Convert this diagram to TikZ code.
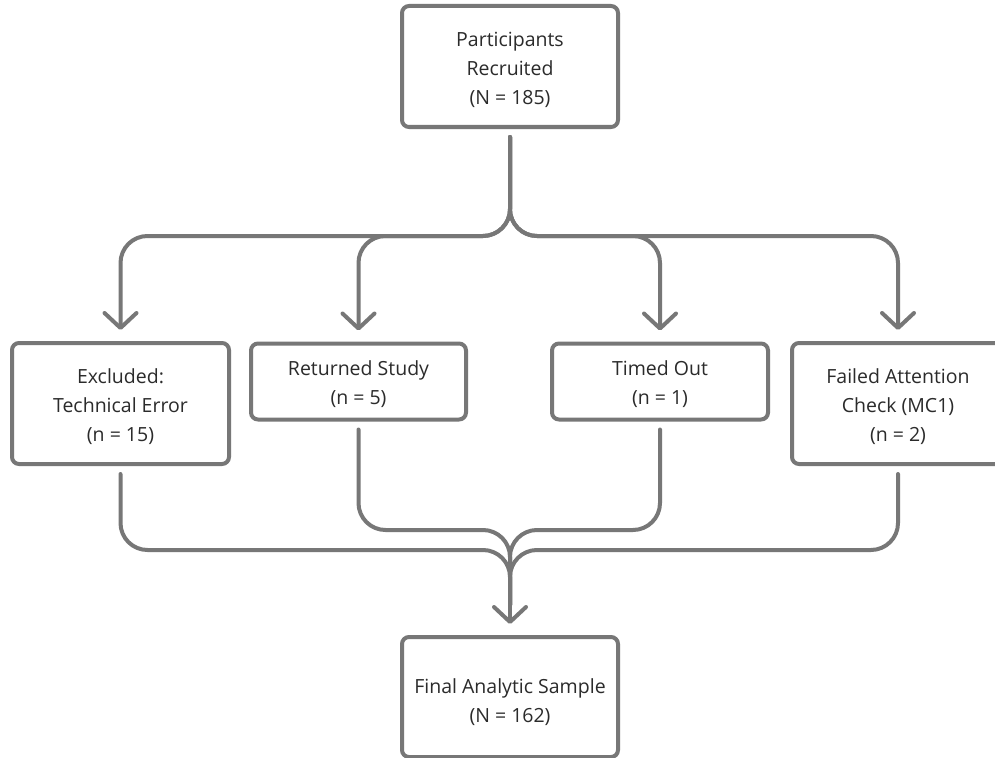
\documentclass[tikz,border=0pt]{standalone}
\usepackage{fontspec}
\setmainfont{Open Sans}
\usetikzlibrary{arrows.meta,calc}
\definecolor{linegray}{HTML}{777777}
\definecolor{textgray}{HTML}{2B2B2B}
\newcommand\boxtext[2][3pt]{\raisebox{-#1}[\height][\depth]{\begin{tabular}{@{}c@{}}#2\end{tabular}}}
\tikzset{
  box/.style={draw=linegray, line width=4pt, rounded corners=7pt, fill=white,
    text=textgray, font=\fontsize{19.5}{29}\selectfont, inner sep=0pt},
  conn/.style={draw=linegray, line width=4pt, rounded corners=27pt, line cap=round},
  arr/.style={-{Straight Barb[length=15pt,width=32pt,line cap=round,line join=round]}}
}
\begin{document}
\begin{tikzpicture}[x=1pt,y=-1pt]
\useasboundingbox (0,0) rectangle (995,757);
\clip (0,0) rectangle (995,757);
\fill[white] (0,0) rectangle (995,757);
\node[box, minimum width=216pt, minimum height=121pt] (top) at (510,66.5) {\boxtext{Participants\\Recruited\\(N = 185)}};
\node[box, minimum width=217pt, minimum height=121pt] (b1) at (120.5,403.5) {\boxtext{Excluded:\\Technical Error\\(n = 15)}};
\node[box, minimum width=215pt, minimum height=76pt] (b2) at (358.5,381.5) {\boxtext{Returned Study\\(n = 5)}};
\node[box, minimum width=216pt, minimum height=76pt] (b3) at (660,381.5) {\boxtext{Timed Out\\(n = 1)}};
\node[box, minimum width=212pt, minimum height=121pt] (b4) at (898,403.5) {\boxtext{Failed Attention\\Check (MC1)\\(n = 2)}};
\node[box, minimum width=216pt, minimum height=120pt] (bot) at (510,697) {\boxtext[5pt]{Final Analytic Sample\\(N = 162)}};
\coordinate (sy) at (0,236);
\coordinate (my1) at (0,550);
\coordinate (my2) at (0,530);
% split
\foreach \b in {b1,b2,b3,b4}{
  \draw[conn,arr] ($(top.south)+(0,8)$) -- (top.south |- sy) -- (\b.north |- sy) -- ($(\b.north)+(0,-11)$);
}
% merge
\draw[conn] ($(b1.south)+(0,8)$) -- (b1.south |- my1) -- (bot.north |- my1) -- ($(bot.north)+(0,-30)$);
\draw[conn] ($(b4.south)+(0,8)$) -- (b4.south |- my1) -- (bot.north |- my1) -- ($(bot.north)+(0,-30)$);
\draw[conn] ($(b2.south)+(0,8)$) -- (b2.south |- my2) -- (bot.north |- my2) -- ($(bot.north)+(0,-30)$);
\draw[conn] ($(b3.south)+(0,8)$) -- (b3.south |- my2) -- (bot.north |- my2) -- ($(bot.north)+(0,-30)$);
\draw[conn,arr] ($(bot.north)+(0,-40)$) -- ($(bot.north)+(0,-11)$);
\end{tikzpicture}
\end{document}
